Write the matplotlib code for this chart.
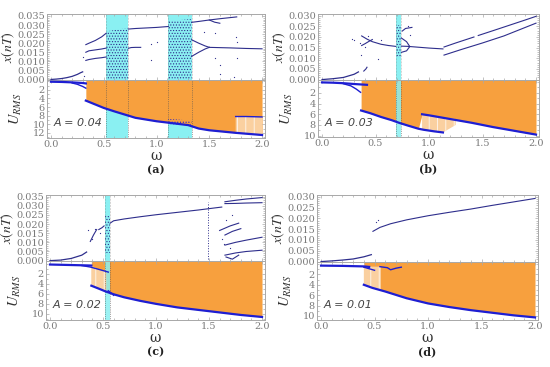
"""
Bifurcation diagrams x(nT) and U_RMS against omega for four forcing amplitudes.
"""
import matplotlib
matplotlib.use("Agg")
import matplotlib.pyplot as plt
from matplotlib.patches import Polygon
from matplotlib.ticker import MultipleLocator, FixedLocator

FIG_W, FIG_H = 550, 367

ORANGE = "#F7A03E"
LIGHT_ORANGE = "#FAD0A0"
CYAN = "#8AF0F2"
NAVY = "#2E2E8C"
BLUE = "#1E1ED2"
GRAY = "#A8A8A8"
TXT = "#7A7A7A"

# ---------------- panel (a), A = 0.04 ----------------
A04_BASE_W = [0.0, 0.05, 0.1, 0.15, 0.2, 0.25, 0.28, 0.3]
A04_BASE_X = [0.0, 0.0002, 0.0005, 0.001, 0.0017, 0.0028, 0.0037, 0.0042]
A04_BRANCHES = [
    ([0.33, 0.36, 0.42, 0.48, 0.523], [0.0192, 0.0200, 0.0215, 0.0235, 0.0255]),
    ([0.33, 0.36, 0.42, 0.48, 0.523], [0.0150, 0.0158, 0.0163, 0.0168, 0.0173]),
    ([0.33, 0.36, 0.42, 0.48, 0.523], [0.0105, 0.0110, 0.0116, 0.0120, 0.0124]),
    ([0.734, 0.8, 0.9, 1.0, 1.112], [0.0278, 0.0281, 0.0284, 0.0287, 0.0292]),
    ([0.734, 0.76, 0.8, 0.85], [0.0172, 0.0176, 0.0177, 0.0177]),
    ([1.332, 1.4, 1.5, 1.6, 1.76], [0.0315, 0.0320, 0.0328, 0.0335, 0.0345]),
    ([1.5, 1.55, 1.6], [0.0328, 0.0316, 0.0310]),
    ([1.332, 1.4, 1.46, 1.5], [0.0219, 0.0200, 0.0185, 0.0177]),
    ([1.332, 1.4, 1.46, 1.5], [0.0127, 0.0150, 0.0168, 0.0177]),
    ([1.5, 1.7, 1.85, 2.0], [0.0177, 0.0174, 0.0171, 0.0169]),
]
A04_DOTS_W = [0.30, 0.31, 0.95, 0.95, 1.0, 1.45, 1.55, 1.55, 1.6, 1.6, 1.75, 1.76, 1.76, 1.73]
A04_DOTS_X = [0.0125, 0.0020, 0.0195, 0.011, 0.0205, 0.0263, 0.0258, 0.0118, 0.0078,
              0.003, 0.0235, 0.0205, 0.012, 0.0015]
A04_CHAOS_W = [[0.523, 0.734], [1.112, 1.332]]
A04_CHAOS_TOP = [[0.0265, 0.0285], [0.0322, 0.0333]]
A04_CHAOS_BOT = [[0.0, 0.0], [0.0, 0.0]]

A04_TOPLINE_W = [0.0, 0.1, 0.2, 0.3, 0.33]
A04_TOPLINE_U = [0.1, 0.15, 0.25, 0.4, 0.5]
A04_CURVES = [
    ([0.2, 0.25, 0.3, 0.33], [0.4, 0.7, 1.2, 1.6]),
    ([1.75, 1.85, 2.0], [8.2, 8.2, 8.3]),
]
A04_ENV_W = [0.33, 0.4, 0.5, 0.6, 0.72, 0.8, 1.0, 1.1, 1.3, 1.4, 1.5, 1.75, 2.0]
A04_ENV_U = [4.5, 5.2, 6.2, 7.0, 7.9, 8.5, 9.3, 9.6, 10.2, 11.0, 11.4, 12.0, 12.5]
A04_STRIPE_W = [1.75, 1.85, 2.0]
A04_STRIPE_LO = [8.2, 8.2, 8.3]
A04_STRIPE_HI = [12.0, 12.2, 12.5]
A04_NOISE_W = [1.11, 1.2, 1.33]
A04_NOISE_LO = [8.8, 8.9, 9.2]
A04_NOISE_HI = [10.0, 10.1, 10.3]

# ---------------- panel (b), A = 0.03 ----------------
A03_BASE_W = [0.0, 0.1, 0.2, 0.3, 0.34]
A03_BASE_X = [0.0, 0.0004, 0.001, 0.0025, 0.0036]
A03_BRANCHES = [
    ([0.39, 0.41, 0.42], [0.0040, 0.0050, 0.0058]),
    ([0.37, 0.42, 0.47, 0.55, 0.62, 0.687], [0.0205, 0.0190, 0.0178, 0.0166, 0.0160, 0.0156]),
    ([0.37, 0.40, 0.44, 0.47], [0.0160, 0.0168, 0.0180, 0.0188]),
    ([0.742, 0.79, 0.82, 0.79, 0.742], [0.0195, 0.0178, 0.0155, 0.0135, 0.0128]),
    ([0.742, 0.8, 0.9, 1.0, 1.13], [0.0157, 0.0156, 0.0152, 0.0148, 0.0144]),
    ([0.75, 0.78, 0.84], [0.0228, 0.0240, 0.0245]),
    ([1.14, 1.25, 1.42], [0.0153, 0.0172, 0.0200]),
    ([1.46, 1.6, 1.75, 1.9, 2.0], [0.0207, 0.0230, 0.0255, 0.0280, 0.0297]),
    ([1.14, 1.3, 1.5, 1.7, 1.85, 2.0], [0.0115, 0.0141, 0.0172, 0.0205, 0.0235, 0.0265]),
]
A03_DOTS_W = [0.28, 0.30, 0.35, 0.36, 0.40, 0.43, 0.52, 0.55, 0.80, 0.82]
A03_DOTS_X = [0.0190, 0.0185, 0.0170, 0.0115, 0.0155, 0.0205, 0.0095, 0.0185, 0.0250, 0.0210]
A03_CHAOS_W = [[0.687, 0.742]]
A03_CHAOS_TOP = [[0.0255, 0.0255]]
A03_CHAOS_BOT = [[0.0105, 0.0105]]

A03_TOPLINE_W = [0.0, 0.1, 0.2, 0.3, 0.42]
A03_TOPLINE_U = [0.05, 0.1, 0.2, 0.35, 0.5]
A03_CURVES = [
    ([0.2, 0.27, 0.32, 0.36], [0.3, 0.7, 1.3, 1.9]),
]
A03_ENV_W = [0.365, 0.45, 0.55, 0.65, 0.72, 0.8, 0.9, 0.95, 1.05, 1.13]
A03_ENV_U = [5.3, 5.8, 6.5, 7.1, 7.6, 8.1, 8.7, 8.9, 9.2, 9.4]
A03_UPPER_W = [0.935, 1.0, 1.2, 1.4, 1.6, 1.8, 2.0]
A03_UPPER_U = [6.0, 6.2, 6.9, 7.6, 8.4, 9.1, 9.8]
A03_FILL_W = [0.365, 0.45, 0.55, 0.65, 0.72, 0.8, 0.9, 0.935, 1.0, 1.2, 1.4, 1.6, 1.8, 2.0]
A03_FILL_U = [5.3, 5.8, 6.5, 7.1, 7.6, 8.1, 8.7, 6.0, 6.2, 6.9, 7.6, 8.4, 9.1, 9.8]
A03_STRIPE_W = [0.935, 1.05, 1.13, 1.25]
A03_STRIPE_LO = [6.0, 6.3, 6.6, 6.9]
A03_STRIPE_HI = [8.9, 9.2, 9.4, 8.0]

# ---------------- panel (c), A = 0.02 ----------------
A02_BASE_W = [0.0, 0.1, 0.2, 0.3, 0.345]
A02_BASE_X = [0.0, 0.0003, 0.0012, 0.003, 0.0047]
A02_BRANCHES = [
    ([0.38, 0.41, 0.44], [0.0105, 0.0140, 0.0170]),
    ([0.46, 0.49, 0.51], [0.0170, 0.0180, 0.0190]),
    ([0.567, 0.6, 0.7, 0.85, 1.0, 1.2, 1.4, 1.55, 1.62],
     [0.0205, 0.0218, 0.0228, 0.0240, 0.0251, 0.0264, 0.0277, 0.0288, 0.0293]),
    ([1.65, 1.75, 1.85, 2.0], [0.0322, 0.0330, 0.0337, 0.0345]),
    ([1.65, 1.75, 1.85, 2.0], [0.0312, 0.0313, 0.0315, 0.0317]),
    ([1.65, 1.75, 1.85, 2.0], [0.0085, 0.0100, 0.0112, 0.0128]),
    ([1.65, 1.75, 1.85, 2.0], [0.0030, 0.0042, 0.0050, 0.0057]),
    ([1.6, 1.7, 1.78], [0.0165, 0.0190, 0.0205]),
    ([1.65, 1.72, 1.8], [0.0140, 0.0160, 0.0175]),
    ([1.66, 1.72, 1.78], [0.0020, 0.0008, 0.0030]),
]
A02_DOTS_W = [0.36, 0.40, 0.42, 0.47, 1.62, 1.64, 1.66, 1.70, 1.72]
A02_DOTS_X = [0.0170, 0.0120, 0.0175, 0.0150, 0.0120, 0.0090, 0.0220, 0.0070, 0.0250]
A02_VERT_W = [1.49, 1.49]
A02_VERT_X = [0.001, 0.032]
A02_CHAOS_W = [[0.52, 0.567]]
A02_CHAOS_TOP = [[0.0245, 0.0245]]
A02_CHAOS_BOT = [[0.004, 0.004]]

A02_TOPLINE_W = [0.0, 0.1, 0.2, 0.3, 0.39]
A02_TOPLINE_U = [0.2, 0.25, 0.3, 0.35, 0.4]
A02_CURVES = [
    ([0.3, 0.38, 0.45, 0.5, 0.55], [0.4, 0.7, 1.1, 1.4, 1.7]),
    ([0.55, 0.58, 0.6], [5.4, 5.9, 6.3]),
]
A02_ENV_W = [0.39, 0.45, 0.52, 0.6, 0.7, 0.85, 1.0, 1.2, 1.4, 1.6, 1.8, 2.0]
A02_ENV_U = [4.4, 4.9, 5.5, 6.1, 6.7, 7.4, 8.0, 8.7, 9.2, 9.7, 10.2, 10.6]
A02_STRIPE_W = [0.39, 0.45, 0.53]
A02_STRIPE_LO = [0.4, 1.1, 1.6]
A02_STRIPE_HI = [4.4, 4.9, 5.6]

# ---------------- panel (d), A = 0.01 ----------------
A01_BASE_W = [0.0, 0.1, 0.2, 0.3, 0.4, 0.47]
A01_BASE_X = [0.0, 0.0003, 0.0007, 0.0012, 0.0022, 0.0032]
A01_BRANCHES = [
    ([0.485, 0.55, 0.65, 0.8, 1.0, 1.2, 1.4, 1.6, 1.8, 2.0],
     [0.0140, 0.0158, 0.0175, 0.0193, 0.0212, 0.0228, 0.0243, 0.0260, 0.0276, 0.0292]),
]
A01_DOTS_W = [0.51, 0.53]
A01_DOTS_X = [0.0185, 0.0192]

A01_TOPLINE_W = [0.0, 0.2, 0.4, 0.45]
A01_TOPLINE_U = [0.3, 0.35, 0.45, 0.55]
A01_CURVES = [
    ([0.4, 0.45, 0.5], [0.6, 0.9, 1.2]),
    ([0.55, 0.62, 0.65, 0.7, 0.75], [0.5, 0.7, 1.1, 0.8, 0.6]),
]
A01_ENV_W = [0.40, 0.48, 0.6, 0.8, 1.0, 1.2, 1.4, 1.6, 1.8, 2.0]
A01_ENV_U = [4.0, 4.6, 5.3, 6.6, 7.6, 8.3, 8.9, 9.4, 9.9, 10.3]
A01_STRIPE_W = [0.40, 0.48, 0.56]
A01_STRIPE_LO = [0.5, 0.5, 0.5]
A01_STRIPE_HI = [4.0, 4.6, 5.0]

plt.rcParams["font.family"] = ["DejaVu Serif"]
plt.rcParams["mathtext.fontset"] = "stix"
plt.rcParams["hatch.linewidth"] = 0.5

fig = plt.figure(figsize=(FIG_W / 100, FIG_H / 100), dpi=100)


def px_axes(left, top, right, bottom):
    """Add axes from a pixel box (origin top-left)."""
    return fig.add_axes([left / FIG_W, 1 - bottom / FIG_H,
                         (right - left) / FIG_W, (bottom - top) / FIG_H])


def style(ax, ymajor, yminor, yfmt):
    for sp in ax.spines.values():
        sp.set_color(GRAY)
        sp.set_linewidth(0.7)
    ax.set_xlim(-0.038, 2.028)
    ax.xaxis.set_major_locator(MultipleLocator(0.5))
    ax.xaxis.set_minor_locator(MultipleLocator(0.1))
    ax.yaxis.set_major_locator(MultipleLocator(ymajor))
    ax.yaxis.set_minor_locator(MultipleLocator(yminor))
    ax.yaxis.set_major_formatter(yfmt)
    ax.tick_params(which="both", direction="in", top=True, right=True,
                   color=GRAY, labelcolor=TXT, labelsize=7, pad=1.5, width=0.5)
    ax.tick_params(which="major", length=2.5)
    ax.tick_params(which="minor", length=1.3)


def draw_panel(box, ylim_x, ylim_u, umax_tick, base_w, base_x, branches,
               dots_w, dots_x, chaos_w, chaos_top, chaos_bot, top_w, top_u, curves,
               env_w, env_u, fill_w, fill_u, stripe_w, stripe_lo, stripe_hi,
               label, amp, cyan_on_top=False):
    left, top, mid, bottom, right = box
    ax1 = px_axes(left, top, right, mid)
    ax2 = px_axes(left, mid, right, bottom)
    ax2.set_ylim(*ylim_u)

    # region under the lower envelope, used to clip the cyan bands
    under = Polygon(list(zip(env_w, env_u)) + [(env_w[-1], ylim_u[0]), (env_w[0], ylim_u[0])],
                    closed=True, transform=ax2.transData)

    # upper panel: x(nT)
    for cw, ct, cb in zip(chaos_w, chaos_top, chaos_bot):
        ax1.axvspan(cw[0], cw[1], color=CYAN, lw=0, zorder=0)
        if cyan_on_top:
            ax2.axvspan(cw[0], cw[1], color=CYAN, alpha=0.85, lw=0, zorder=1.2)
        else:
            span = ax2.axvspan(cw[0], cw[1], color=CYAN, lw=0, zorder=0)
            span.set_clip_path(under)
        ax1.fill_between(cw, cb, ct, facecolor="none", edgecolor=NAVY,
                         hatch="......", lw=0, zorder=2)
    ax1.plot(base_w, base_x, color=NAVY, lw=0.9, zorder=3)
    for bw, bx in branches:
        ax1.plot(bw, bx, color=NAVY, lw=0.8, zorder=3)
    ax1.scatter(dots_w, dots_x, s=0.8, color=NAVY, lw=0, zorder=3)
    ax1.set_ylim(*ylim_x)
    style(ax1, 0.005, 0.001, "{x:.3f}")
    ax1.tick_params(labelbottom=False)
    ax1.set_ylabel(r"$x(nT)$", fontsize=10, color="#333333")
    ax1.yaxis.set_label_coords(-30 / (right - left), 0.5)

    # lower panel: U_RMS, inverted
    ax2.fill_between(fill_w, ylim_u[1], fill_u, color=ORANGE, lw=0, zorder=1)
    if stripe_w:
        ax2.fill_between(stripe_w, stripe_lo, stripe_hi, facecolor=LIGHT_ORANGE,
                         edgecolor="white", hatch="||", lw=0, zorder=1.5)
    ax2.plot(top_w, top_u, color=BLUE, lw=1.6, zorder=3)
    for cw_, cu_ in curves:
        ax2.plot(cw_, cu_, color=BLUE, lw=1.0, zorder=3)
    ax2.plot(env_w, env_u, color=BLUE, lw=1.6, zorder=3)
    for cw in chaos_w:
        for edge in cw:
            ax2.axvline(edge, color="#555555", lw=0.5, ls=":", zorder=2)
            ax1.axvline(edge, color="#777777", lw=0.4, ls=":", zorder=2)
    style(ax2, 2, 1, "{x:.0f}")
    ax2.yaxis.set_major_locator(FixedLocator(list(range(2, umax_tick + 1, 2))))
    ax2.set_ylim(*ylim_u)
    ax2.xaxis.set_major_formatter("{x:.1f}")
    ax2.set_ylabel(r"$U_{RMS}$", fontsize=10.5, color="#333333")
    ax2.yaxis.set_label_coords(-23 / (right - left), 0.5)
    ax2.text(0.03, 0.2, f"A = {amp}", transform=ax2.transAxes, fontsize=8,
             style="italic", family="DejaVu Sans", color="#444444", zorder=5)
    ax2.set_xlabel("ω", fontsize=10, color="#333333", labelpad=0)
    fig.text((left + right) / 2 / FIG_W, 1 - (bottom + 35) / FIG_H, f"({label})",
             ha="center", fontsize=8, fontweight="bold", color="#222222")
    return ax1, ax2


ax_a1, ax_a2 = draw_panel((47, 14, 80, 138, 265), (-0.0003, 0.0361), (13.2, -0.3), 12,
                          A04_BASE_W, A04_BASE_X, A04_BRANCHES, A04_DOTS_W, A04_DOTS_X,
                          A04_CHAOS_W, A04_CHAOS_TOP, A04_CHAOS_BOT,
                          A04_TOPLINE_W, A04_TOPLINE_U, A04_CURVES,
                          A04_ENV_W, A04_ENV_U, A04_ENV_W, A04_ENV_U,
                          A04_STRIPE_W, A04_STRIPE_LO, A04_STRIPE_HI, "a", "0.04")
ax_a2.fill_between(A04_NOISE_W, A04_NOISE_LO, A04_NOISE_HI, facecolor="none",
                   edgecolor=BLUE, hatch="......", lw=0, zorder=3)

ax_b1, ax_b2 = draw_panel((318, 14, 80, 137, 539), (-0.0002, 0.0308), (10.25, -0.4), 10,
                          A03_BASE_W, A03_BASE_X, A03_BRANCHES, A03_DOTS_W, A03_DOTS_X,
                          A03_CHAOS_W, A03_CHAOS_TOP, A03_CHAOS_BOT,
                          A03_TOPLINE_W, A03_TOPLINE_U, A03_CURVES,
                          A03_ENV_W, A03_ENV_U, A03_FILL_W, A03_FILL_U,
                          A03_STRIPE_W, A03_STRIPE_LO, A03_STRIPE_HI, "b", "0.03",
                          cyan_on_top=True)
ax_b2.plot(A03_UPPER_W, A03_UPPER_U, color=BLUE, lw=1.6, zorder=3)

ax_c1, ax_c2 = draw_panel((46, 195, 261, 320, 265), (-0.0002, 0.0359), (11.2, -0.5), 10,
                          A02_BASE_W, A02_BASE_X, A02_BRANCHES, A02_DOTS_W, A02_DOTS_X,
                          A02_CHAOS_W, A02_CHAOS_TOP, A02_CHAOS_BOT,
                          A02_TOPLINE_W, A02_TOPLINE_U, A02_CURVES,
                          A02_ENV_W, A02_ENV_U, A02_ENV_W, A02_ENV_U,
                          A02_STRIPE_W, A02_STRIPE_LO, A02_STRIPE_HI, "c", "0.02",
                          cyan_on_top=True)
ax_c1.plot(A02_VERT_W, A02_VERT_X, color=NAVY, lw=0.7, ls=":", zorder=3)

draw_panel((317, 195, 262, 320, 538), (-0.0002, 0.0308), (10.8, -0.4), 10,
           A01_BASE_W, A01_BASE_X, A01_BRANCHES, A01_DOTS_W, A01_DOTS_X,
           [], [], [],
           A01_TOPLINE_W, A01_TOPLINE_U, A01_CURVES,
           A01_ENV_W, A01_ENV_U, A01_ENV_W, A01_ENV_U,
           A01_STRIPE_W, A01_STRIPE_LO, A01_STRIPE_HI, "d", "0.01")

fig.savefig("out.png", dpi=100)
